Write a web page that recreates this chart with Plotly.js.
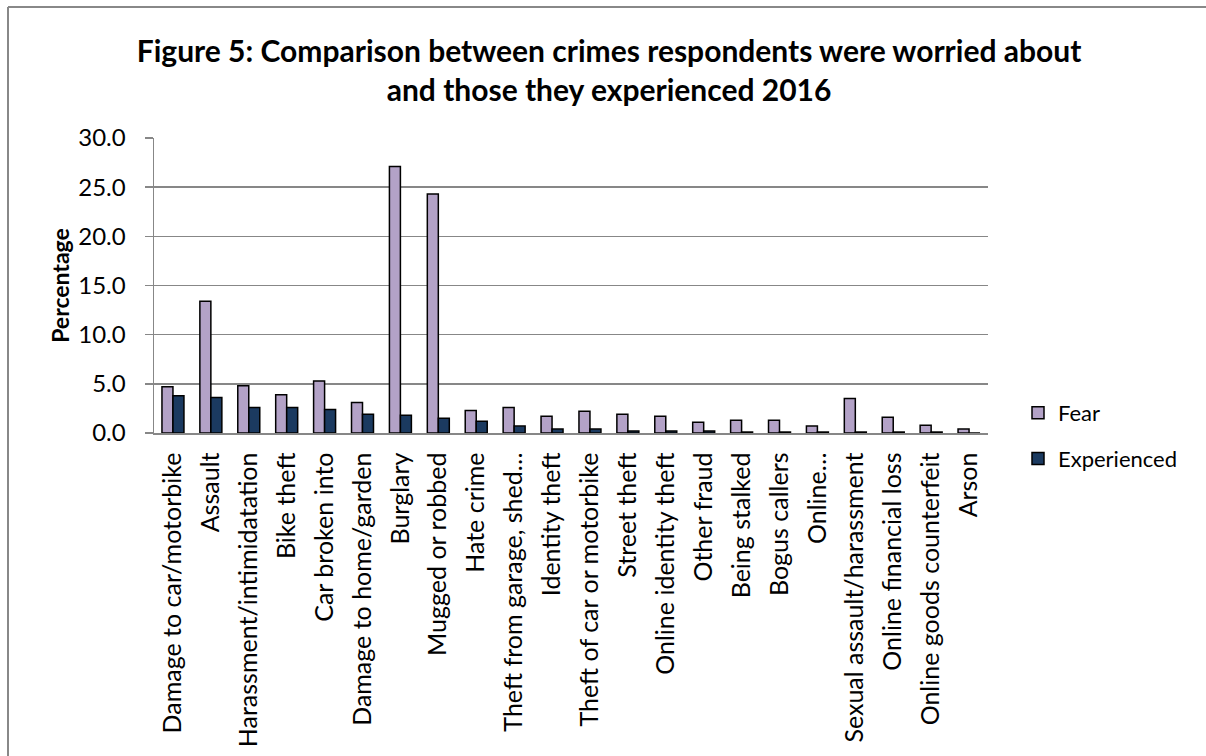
<!DOCTYPE html>
<html>
<head>
<meta charset="utf-8">
<script src="https://cdn.plot.ly/plotly-3.0.1.min.js"></script>
<style>
html,body{margin:0;padding:0;background:#fff;}
#chart{width:1206px;height:756px;}
</style>
</head>
<body>
<div id="chart"></div>
<script>
const categories = [
  "Damage to car/motorbike","Assault","Harassment/intimidatation","Bike theft",
  "Car broken into","Damage to home/garden","Burglary","Mugged or robbed",
  "Hate crime","Theft from garage, shed…","Identity theft","Theft of car or motorbike",
  "Street theft","Online identity theft","Other fraud","Being stalked",
  "Bogus callers","Online…","Sexual assault/harassment","Online financial loss",
  "Online goods counterfeit","Arson"
];
const fear = [4.7,13.4,4.8,3.9,5.3,3.1,27.1,24.3,2.3,2.6,1.7,2.2,1.9,1.7,1.1,1.3,1.3,0.7,3.5,1.6,0.8,0.4];
const experienced = [3.8,3.6,2.6,2.6,2.4,1.9,1.8,1.5,1.2,0.7,0.4,0.4,0.2,0.2,0.2,0.1,0.1,0.1,0.1,0.1,0.1,0.0];
const yTickVals = [0,5,10,15,20,25,30];
const yTickText = ["0.0","5.0","10.0","15.0","20.0","25.0","30.0"];

const W = 1206, H = 756;
const L = 154, R = 988, T = 138, B = 433;
const pw = R - L, ph = B - T;
const px = x => (x - L) / pw;
const py = y => (B - y) / ph;

const font = "Lato, 'Open Sans', sans-serif";
const grid = "#878787";

const traces = [
  {type:"bar", name:"Fear", x:categories, y:fear, legendgroup:"a",
   marker:{color:"#b3a2c7", line:{color:"#000", width:1.5}}},
  {type:"bar", name:"Experienced", x:categories, y:experienced, legendgroup:"b",
   marker:{color:"#1b3a60", line:{color:"#000", width:1.5}}}
];

const layout = {
  width:W, height:H,
  margin:{l:L, r:W-R, t:T, b:H-B, pad:0},
  paper_bgcolor:"#fff", plot_bgcolor:"#fff",
  font:{family:font, size:22, color:"#000"},
  title:{text:"<b>Figure 5: Comparison between crimes respondents were worried about<br>and those they experienced 2016</b>",
         font:{family:font, size:30, color:"#000"}, x:0.505, xanchor:"center", y:1-62/H, yanchor:"middle"},
  barmode:"group", bargap:0.42, bargroupgap:0,
  showlegend:true,
  legend:{x:px(1018), xanchor:"left", y:py(436), yanchor:"middle", traceorder:"grouped",
          tracegroupgap:14, font:{family:font, size:22, color:"#000"}, bgcolor:"rgba(0,0,0,0)"},
  xaxis:{type:"category", tickangle:-90, showline:true, linecolor:grid, linewidth:1.5,
         ticks:"", showgrid:false, ticklabelstandoff:8, tickfont:{family:font, size:25, color:"#000"}, automargin:false},
  yaxis:{range:[0,30], tickvals:yTickVals, ticktext:yTickText, showgrid:true, gridcolor:grid, gridwidth:1.5,
         showline:true, linecolor:grid, linewidth:1.5, ticks:"outside", ticklen:8, tickcolor:grid, tickwidth:1.5,
         ticklabelstandoff:14,
         zeroline:false, tickfont:{family:font, size:24, color:"#000"}, automargin:false,
         title:{text:"<b>Percentage</b>", font:{family:font, size:23, color:"#000"}, standoff:2}},
  shapes:[
    {type:"line", xref:"paper", yref:"paper", x0:px(8), x1:px(8), y0:py(7), y1:py(800), line:{color:"#888", width:2}},
    {type:"line", xref:"paper", yref:"paper", x0:px(8), x1:px(1300), y0:py(7), y1:py(7), line:{color:"#888", width:2}}
  ]
};

Plotly.newPlot("chart", traces, layout, {displayModeBar:false, staticPlot:true});
</script>
</body>
</html>
